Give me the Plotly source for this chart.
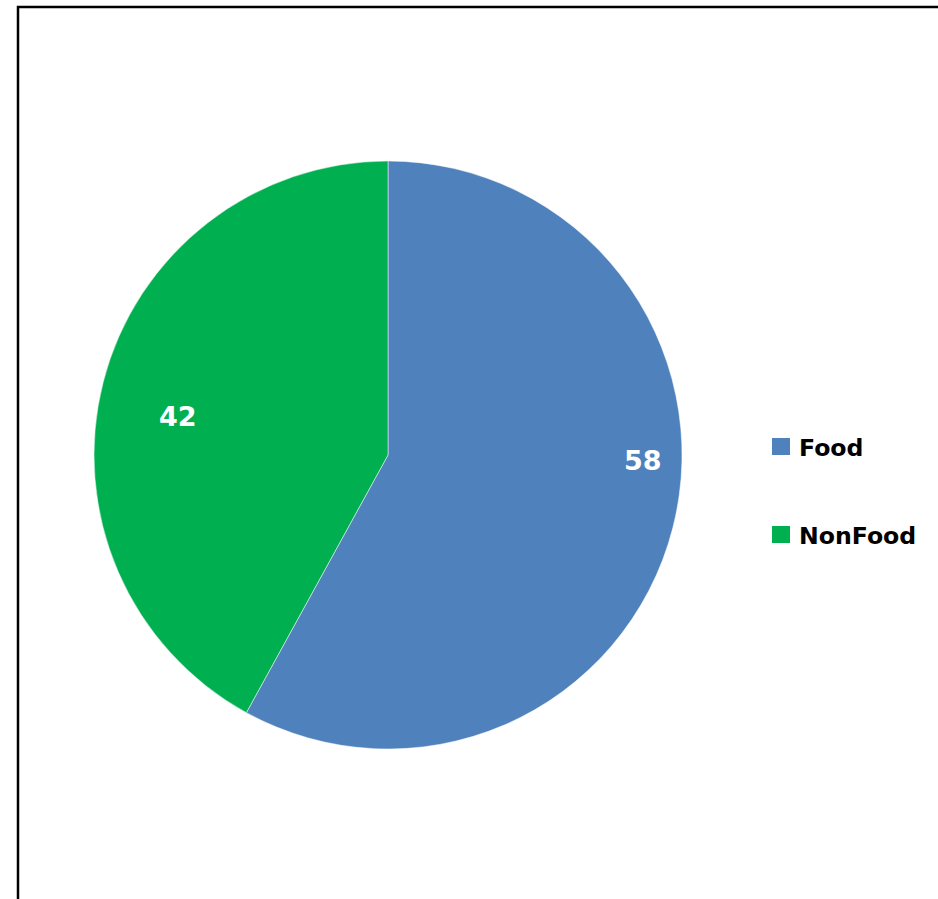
import math
import plotly.graph_objects as go

categories = ["Food", "NonFood"]
values = [58, 42]
colors = ["#4F81BD", "#00B050"]

W, H = 938, 899
font_family = "'DejaVu Sans', Verdana, sans-serif"

# Pie geometry in pixels
cx, cy, R = 388, 455, 294

# Data label placement: radial fraction and angular nudge (deg) from the slice bisector
label_radius = [0.869, 0.727]
label_nudge = [-13.2, -3.9]

fig = go.Figure(
    go.Pie(
        labels=categories,
        values=values,
        sort=False,
        direction="clockwise",
        rotation=0,
        marker=dict(colors=colors, line=dict(color="white", width=0.5)),
        textinfo="none",
        domain=dict(x=[(cx - R) / W, (cx + R) / W], y=[1 - (cy + R) / H, 1 - (cy - R) / H]),
        showlegend=False,
        hoverinfo="label+value",
    )
)

shapes = [
    dict(type="rect", xref="paper", yref="paper",
         x0=18 / W, x1=1.05, y0=-0.05, y1=1 - 7 / H,
         line=dict(color="black", width=2.5), fillcolor="rgba(0,0,0,0)")
]
annotations = []

# Value labels inside the slices
total = sum(values)
start = 0.0
for v, frac, nudge in zip(values, label_radius, label_nudge):
    span = 360.0 * v / total
    theta = math.radians(start + span / 2 + nudge)
    start += span
    px = cx + R * frac * math.sin(theta)
    py = cy - R * frac * math.cos(theta)
    annotations.append(dict(xref="paper", yref="paper", x=px / W, y=1 - py / H,
                            xanchor="center", yanchor="middle", showarrow=False,
                            text=f"<b>{v}</b>",
                            font=dict(family=font_family, size=27, color="white")))

# Legend: coloured squares with labels
legend_top = 446.5
legend_step = 88
for i, (cat, col) in enumerate(zip(categories, colors)):
    yc = legend_top + i * legend_step
    shapes.append(dict(type="rect", xref="paper", yref="paper",
                       x0=772 / W, x1=790 / W,
                       y0=1 - (yc + 8.5) / H, y1=1 - (yc - 8.5) / H,
                       line=dict(width=0), fillcolor=col))
    annotations.append(dict(xref="paper", yref="paper", x=797 / W, y=1 - (yc + 1) / H,
                            xanchor="left", yanchor="middle", showarrow=False,
                            text=f"<b>{cat}</b>",
                            font=dict(family=font_family, size=23.6, color="black")))

fig.update_layout(
    width=W, height=H,
    margin=dict(l=0, r=0, t=0, b=0),
    paper_bgcolor="white",
    plot_bgcolor="white",
    shapes=shapes,
    annotations=annotations,
)

fig.write_html("out.html")
